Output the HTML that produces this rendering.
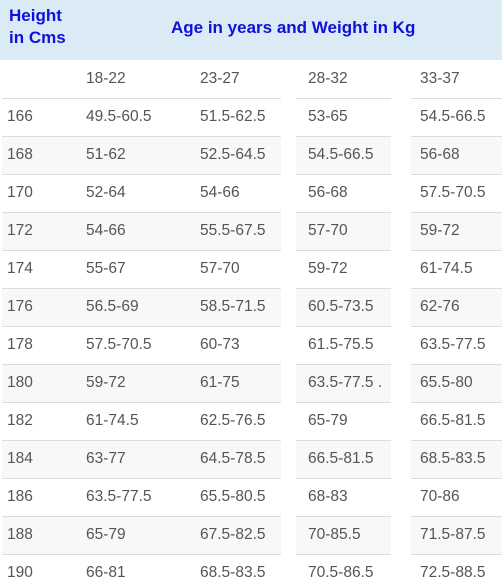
<!DOCTYPE html>
<html><head><meta charset="utf-8"><style>
body{margin:0;width:502px;height:587px;overflow:hidden;background:#fff;font-family:"Liberation Sans",sans-serif;position:relative}
.hdr{position:absolute;left:0;top:0;width:502px;height:60px;background:#daebf6}
.h{position:absolute;color:#1010d8;font-weight:bold;font-size:17px;line-height:22px}
.t{position:absolute;color:#555;font-size:15.5px;line-height:20px}
.seg{position:absolute;height:1px;background:#dcdcdc}
.bg{position:absolute;background:#f8f8f8;height:37px}
</style></head><body>
<div class="hdr"></div>
<div class="h" style="left:9px;top:5px">Height<br>in Cms</div>
<div class="h" style="left:171px;top:17px">Age in years and Weight in Kg</div>
<div id="tbl"></div>
<script>
const heights=["166","168","170","172","174","176","178","180","182","184","186","188","190"];
const ages=["18-22","23-27","28-32","33-37"];
const c1=["49.5-60.5","51-62","52-64","54-66","55-67","56.5-69","57.5-70.5","59-72","61-74.5","63-77","63.5-77.5","65-79","66-81"];
const c2=["51.5-62.5","52.5-64.5","54-66","55.5-67.5","57-70","58.5-71.5","60-73","61-75","62.5-76.5","64.5-78.5","65.5-80.5","67.5-82.5","68.5-83.5"];
const c3=["53-65","54.5-66.5","56-68","57-70","59-72","60.5-73.5","61.5-75.5","63.5-77.5 .","65-79","66.5-81.5","68-83","70-85.5","70.5-86.5"];
const c4=["54.5-66.5","56-68","57.5-70.5","59-72","61-74.5","62-76","63.5-77.5","65.5-80","66.5-81.5","68.5-83.5","70-86","71.5-87.5","72.5-88.5"];
const cols=[c1,c2,c3,c4];
const xs=[86,200,308,420];
const segs=[[2,281],[296,391],[411,502]];
const T=document.getElementById('tbl');
function add(cls,style,txt,name){const d=document.createElement('div');d.className=cls;d.style.cssText=style;if(txt!=null)d.textContent=txt;


T.appendChild(d);return d;}
ages.forEach((a,i)=>add('t',`left:${xs[i]}px;top:69px`,a,'age-'+a));
heights.forEach((h,r)=>{
 const top=98+r*38;
 if(r%2==1) segs.forEach(s=>add('bg',`left:${s[0]}px;width:${s[1]-s[0]}px;top:${top+1}px`,null,'row-shade'));
 segs.forEach(s=>add('seg',`left:${s[0]}px;width:${s[1]-s[0]}px;top:${top}px`,null,'row-divider'));
 add('t',`left:7px;top:${top+9}px`,h,'height-'+h);
 cols.forEach((c,i)=>add('t',`left:${xs[i]}px;top:${top+9}px`,c[r],'weight-cell'));
});
</script>
</body></html>
